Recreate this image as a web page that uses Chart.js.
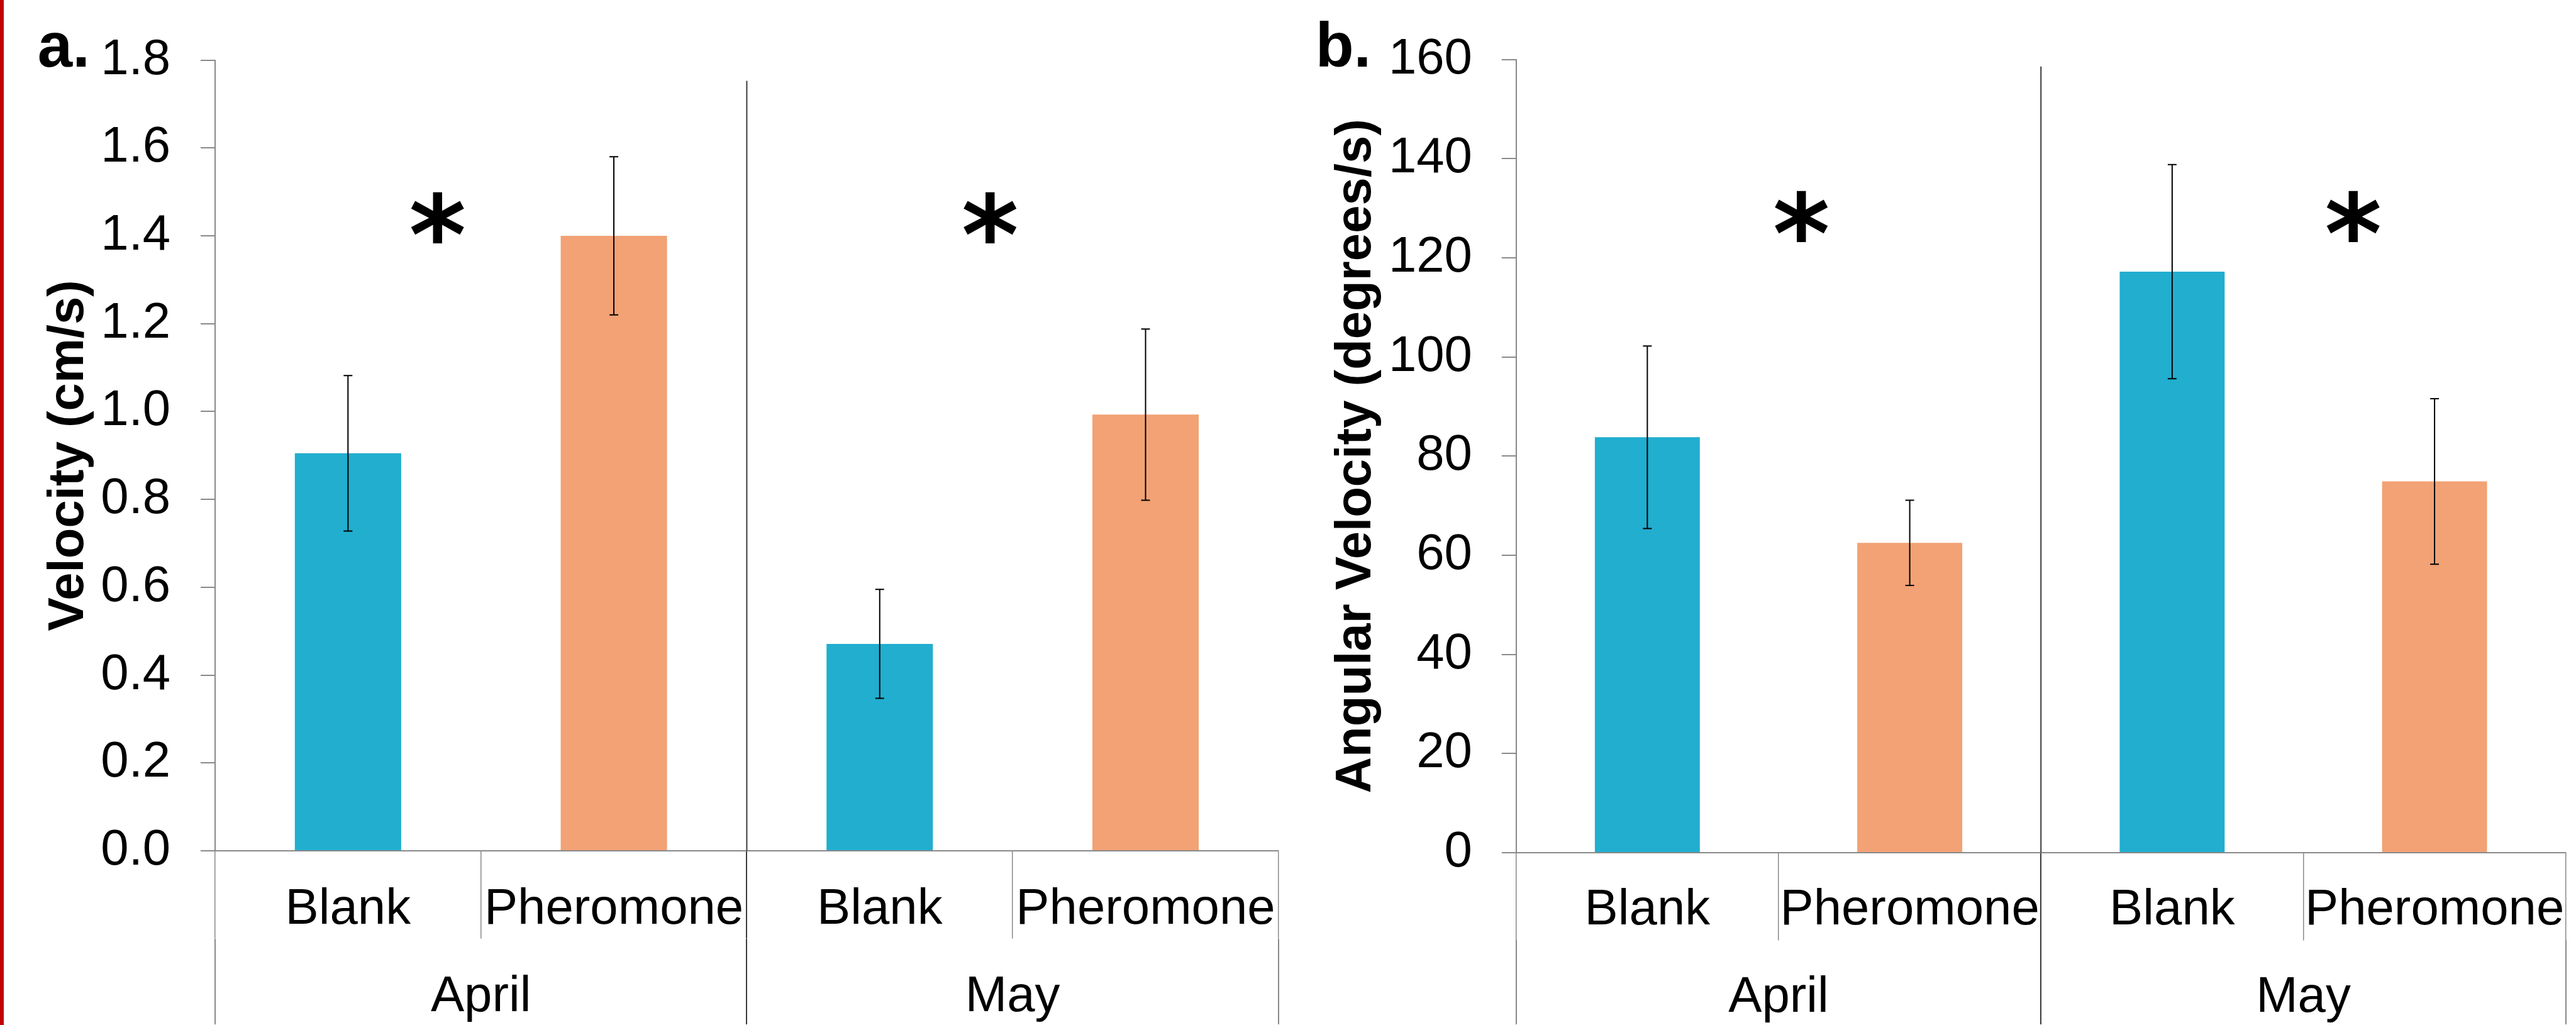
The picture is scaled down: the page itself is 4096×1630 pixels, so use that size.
<!DOCTYPE html>
<html>
<head>
<meta charset="utf-8">
<script src="https://cdn.jsdelivr.net/npm/chart.js@4.4.1/dist/chart.umd.min.js"></script>
<style>
  html, body { margin: 0; padding: 0; background: #fff; }
  body { width: 4096px; height: 1630px; position: relative; overflow: hidden; }
  #edge { position: absolute; left: 0; top: 0; width: 6px; height: 1630px; background: #c00000; }
  canvas { position: absolute; top: 0; }
</style>
</head>
<body>
<div id="edge"></div>
<canvas id="chartA"></canvas>
<canvas id="chartB"></canvas>
<script>
// data
const categories = ['Blank', 'Pheromone', 'Blank', 'Pheromone'];
const months = ['April', 'May'];
const velocity = [0.905, 1.40, 0.471, 0.993];
const velocityErr = [0.177, 0.18, 0.124, 0.195];
const angular = [83.8, 62.5, 117.2, 74.9];
const angularErr = [18.4, 8.6, 21.6, 16.7];
const velocityRange = [0, 1.8, 0.2];
const angularRange = [0, 160, 20];

const S = 0.997;             // reference -> window
const FONT = "'Liberation Sans', Arial, sans-serif";
const GRAY = '#898989';
const DARK = '#3a3a3a';
const BLUE = '#21aecf';
const ORANGE = '#f2a275';

// error bars drawn from the dataset values through the y scale
const errorBars = {
    id: 'errorBars',
    afterDatasetsDraw(chart, args, opts) {
        const {ctx} = chart;
        const y = chart.scales.y;
        const values = chart.data.datasets[0].data;
        ctx.save();
        ctx.strokeStyle = '#000';
        ctx.lineWidth = opts.width;
        chart.getDatasetMeta(0).data.forEach((bar, i) => {
            const top = y.getPixelForValue(values[i] + opts.errors[i]);
            const bot = y.getPixelForValue(values[i] - opts.errors[i]);
            const w = opts.cap / 2;
            ctx.beginPath();
            ctx.moveTo(bar.x, top); ctx.lineTo(bar.x, bot);
            ctx.moveTo(bar.x - w, top); ctx.lineTo(bar.x + w, top);
            ctx.moveTo(bar.x - w, bot); ctx.lineTo(bar.x + w, bot);
            ctx.stroke();
        });
        ctx.restore();
    }
};

// significance asterisks, placed in data units
const stars = {
    id: 'stars',
    afterDatasetsDraw(chart, args, opts) {
        const {ctx} = chart;
        const {x, y} = chart.scales;
        ctx.save();
        ctx.font = 'bold 100px ' + opts.family;
        let m = ctx.measureText('*');
        const size = 100 * opts.height / (m.actualBoundingBoxAscent + m.actualBoundingBoxDescent);
        ctx.font = 'bold ' + size + 'px ' + opts.family;
        m = ctx.measureText('*');
        ctx.fillStyle = '#000';
        ctx.textAlign = 'left';
        ctx.textBaseline = 'alphabetic';
        opts.marks.forEach(p => {
            const cx = x.getPixelForValue(p[0]);
            const cy = y.getPixelForValue(p[1]);
            ctx.fillText('*',
                cx - (m.actualBoundingBoxRight - m.actualBoundingBoxLeft) / 2,
                cy + (m.actualBoundingBoxAscent - m.actualBoundingBoxDescent) / 2);
        });
        ctx.restore();
    }
};

// month divider running up into the plot
const divider = {
    id: 'divider',
    beforeDatasetsDraw(chart, args, opts) {
        const {ctx, chartArea} = chart;
        const px = chart.scales.x.getPixelForValue(1.5);
        ctx.save();
        ctx.strokeStyle = DARK;
        ctx.lineWidth = opts.width;
        ctx.beginPath();
        ctx.moveTo(px, chart.scales.y.getPixelForValue(opts.top));
        ctx.lineTo(px, chartArea.bottom);
        ctx.stroke();
        ctx.restore();
    }
};

const panelLabel = {
    id: 'panelLabel',
    afterDraw(chart, args, opts) {
        const {ctx} = chart;
        ctx.save();
        ctx.font = 'bold ' + opts.size + 'px ' + FONT;
        ctx.fillStyle = '#000';
        ctx.textAlign = 'left';
        ctx.textBaseline = 'alphabetic';
        ctx.fillText(opts.text, opts.x, opts.y);
        ctx.restore();
    }
};

function buildChart(id, p) {
    const canvas = document.getElementById(id);
    const left = Math.round(p.canvasLeft * S);
    const right = p.canvasRight === 4106 ? 4096 : Math.round(p.canvasRight * S);
    canvas.width = right - left;
    canvas.height = 1630;
    canvas.style.left = left + 'px';
    const yWidth = (p.plotLeft - p.axisLeft) * S;
    const gridColor = c => (c.index === 2 ? DARK : GRAY);
    const gridColor2 = c => (c.index === 1 ? DARK : GRAY);

    return new Chart(canvas, {
        type: 'bar',
        data: {
            labels: categories,
            datasets: [{
                data: p.values,
                backgroundColor: [BLUE, ORANGE, BLUE, ORANGE],
                barPercentage: 0.4,
                categoryPercentage: 1,
                xAxisID: 'x',
                yAxisID: 'y'
            }]
        },
        options: {
            responsive: false,
            animation: false,
            devicePixelRatio: 1,
            layout: {
                padding: {
                    left: p.axisLeft * S - left,
                    right: right - p.plotRight * S,
                    top: p.plotTop * S,
                    bottom: 1630 - 1634 * S
                }
            },
            plugins: {
                legend: { display: false },
                tooltip: { enabled: false },
                errorBars: { errors: p.errors, cap: 14 * S, width: 2 * S },
                stars: { marks: p.stars, height: 82 * S, family: "'DejaVu Sans', sans-serif" },
                divider: { top: p.dividerTop, width: 2 * S },
                panelLabel: { text: p.label, x: p.labelX * S - left, y: 106 * S, size: 100 * S }
            },
            scales: {
                y: {
                    min: p.range[0],
                    max: p.range[1],
                    afterFit: s => { s.width = yWidth; },
                    ticks: {
                        stepSize: p.range[2],
                        color: '#000',
                        font: { family: FONT, size: 80 * S },
                        padding: p.tickPad * S,
                        callback: v => v.toFixed(p.decimals)
                    },
                    grid: { drawOnChartArea: false, tickLength: 23 * S, color: GRAY, lineWidth: 2 * S },
                    border: { color: GRAY, width: 2 * S },
                    title: {
                        display: true,
                        text: p.title,
                        color: '#000',
                        font: { family: FONT, size: 80 * S, weight: 'bold' },
                        padding: 0
                    }
                },
                x: {
                    afterFit: s => { s.height = p.xBand * S; },
                    ticks: {
                        color: '#000',
                        font: { family: FONT, size: 80 * S },
                        padding: p.xPad * S,
                        maxRotation: 0,
                        autoSkip: false
                    },
                    grid: {
                        offset: true,
                        drawOnChartArea: false,
                        tickLength: p.xBand * S,
                        color: gridColor,
                        lineWidth: c => (c.index === 2 ? 2 * S : 1.5 * S)
                    },
                    border: { color: GRAY, width: 2 * S }
                },
                x2: {
                    type: 'category',
                    labels: months,
                    position: 'bottom',
                    offset: true,
                    weight: 1,
                    afterFit: s => { s.height = p.x2Band * S; },
                    ticks: {
                        color: '#000',
                        font: { family: FONT, size: 80 * S },
                        padding: p.x2Pad * S,
                        maxRotation: 0
                    },
                    grid: {
                        offset: true,
                        drawOnChartArea: false,
                        tickLength: p.x2Band * S,
                        color: gridColor2,
                        lineWidth: c => (c.index === 1 ? 2 * S : 2 * S)
                    },
                    border: { display: false }
                }
            }
        },
        plugins: [divider, errorBars, stars, panelLabel]
    });
}

buildChart('chartA', {
    values: velocity,
    errors: velocityErr,
    range: velocityRange,
    decimals: 1,
    title: 'Velocity (cm/s)',
    label: 'a.',
    labelX: 60,
    canvasLeft: 0, canvasRight: 2080,
    axisLeft: 62, plotLeft: 343, plotRight: 2039, plotTop: 92,
    tickPad: 48,
    xBand: 140, x2Band: 137, xPad: -94, x2Pad: -91,
    dividerTop: 1.753,
    stars: [[0.337, 1.441], [2.415, 1.441]]
});

buildChart('chartB', {
    values: angular,
    errors: angularErr,
    range: angularRange,
    decimals: 0,
    title: 'Angular Velocity (degrees/s)',
    label: 'b.',
    labelX: 2098,
    canvasLeft: 2080, canvasRight: 4106,
    axisLeft: 2115, plotLeft: 2418, plotRight: 4092, plotTop: 94,
    tickPad: 47,
    xBand: 140, x2Band: 134, xPad: -96, x2Pad: -90,
    dividerTop: 158.6,
    stars: [[0.587, 128.4], [2.69, 128.4]]
});
</script>
</body>
</html>
